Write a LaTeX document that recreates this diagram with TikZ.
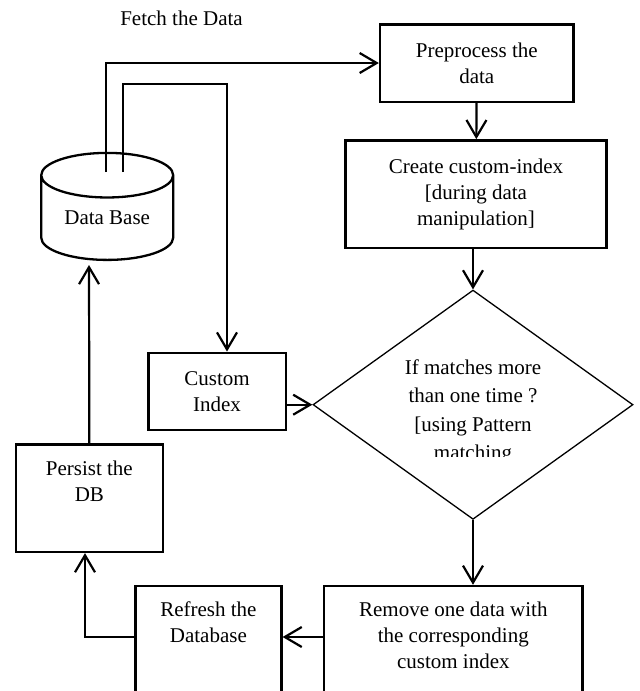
\documentclass[tikz,border=0pt]{standalone}
\usepackage{fontspec}
\setmainfont{Liberation Serif}
\usetikzlibrary{shapes.geometric, arrows.meta, positioning, calc}

\begin{document}
\begin{tikzpicture}[
    x=1pt, y=-1pt,
    every node/.style={font=\fontsize{21}{26}\selectfont},
    block/.style={draw, line width=2.4pt, inner sep=0pt, align=center},
    txt/.style={inner sep=0pt, align=center},
    decision/.style={diamond, draw, line width=1.3pt, inner sep=0pt},
    database/.style={cylinder, shape border rotate=90, draw, line width=2.3pt,
                     aspect=0.52, inner sep=0pt, minimum width=132pt, minimum height=107pt},
    arrow/.style={-{Straight Barb[length=17pt, width=20pt]}, line width=2.2pt}
  ]
    \useasboundingbox (0,0) rectangle (640,691);
    \clip (0,0) rectangle (640,691);

    \node[txt] (fetch) at (181.5,18.5) {Fetch the Data};
    \node[database, anchor=shape center] (db) at (107.2,206.4) {Data Base};

    \node[block, minimum width=193.5pt, minimum height=77.4pt] (pre) at (476.8,63)
      {Preprocess the\\data};
    \node[block, minimum width=260.7pt, minimum height=107.7pt] (create) at (476,194.2)
      {Create custom-index\\{[}during data\\manipulation]};
    \node[block, minimum width=137.4pt, minimum height=77.3pt] (cidx) at (217,391.4)
      {Custom\\Index};
    \node[decision, minimum width=320pt, minimum height=229.3pt] (dec) at (473,404.7) {};
    \begin{scope}
      \clip (0,0) rectangle (640,456);
      \node[txt, font=\fontsize{21}{28.3}\selectfont, anchor=north] (dectxt) at (473,359.5)
        {If matches more\\than one time ?\\{[}using Pattern\\matching};
    \end{scope}

    \node[block, minimum width=146.7pt, minimum height=107.3pt] (persist) at (89.35,498.25) {};
    \node[block, minimum width=146pt, minimum height=134pt] (refresh) at (208.4,653) {};
    \node[block, minimum width=258.6pt, minimum height=134pt] (remove) at (453.3,653) {};
    \node[txt, below=17pt of persist.north] (persisttxt) {Persist the\\DB};
    \node[txt, below=17pt of refresh.north] (refreshtxt) {Refresh the\\Database};
    \node[txt, below=17pt of remove.north] (removetxt)
      {Remove one data with\\the corresponding\\custom index};

    % connector ends
    \coordinate (dbout) at (106,172);
    \coordinate (dbin) at (122.7,172);
    \coordinate (bend) at (227,84);
    \coordinate (dbfoot) at (89,265);
    \coordinate (lowrow) at (0,637);
    \coordinate (lowcol) at (85,0);

    \draw[arrow] (dbout) |- (pre.west);
    \draw[arrow] (dbin) |- (bend) -- (bend |- cidx.north);
    \draw[arrow] (pre) -- (create);
    \draw[arrow] (dec.north |- create.south) -- (dec.north);
    \draw[arrow] (cidx.east |- dec.west) -- (dec.west);
    \draw[arrow] (dec.south) -- (dec.south |- remove.north);
    \draw[arrow] (remove.west |- lowrow) -- (refresh.east |- lowrow);
    \draw[arrow] (refresh.west |- lowrow) -| (lowcol |- persist.south);
    \draw[arrow] (persist.north) -- (dbfoot);
  \end{tikzpicture}
\end{document}
